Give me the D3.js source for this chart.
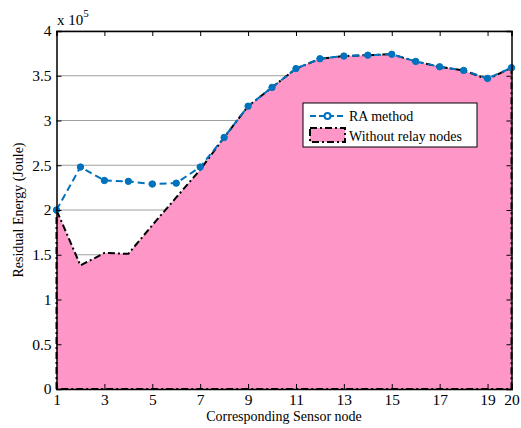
<!DOCTYPE html>
<html>
<head>
<meta charset="utf-8">
<script src="https://cdn.jsdelivr.net/npm/d3@7"></script>
<style>
  body { margin: 0; background: #fff; }
  svg text { font-family: "Liberation Serif", "Times New Roman", serif; fill: #000; }
</style>
</head>
<body>
<svg id="chart" width="521" height="428"></svg>
<script>
// Sensor node indices
const nodes = [1,2,3,4,5,6,7,8,9,10,11,12,13,14,15,16,17,18,19,20];
// Residual energy (x 10^5 J) with the RA method
const raMethod = [2.00,2.48,2.33,2.32,2.29,2.30,2.48,2.81,3.16,3.37,3.58,3.69,3.72,3.73,3.74,3.66,3.60,3.56,3.47,3.59];
// Residual energy (x 10^5 J) without relay nodes
const withoutRelay = [2.00,1.38,1.52,1.51,1.83,2.14,2.45,2.81,3.16,3.37,3.58,3.69,3.72,3.73,3.74,3.66,3.60,3.56,3.46,3.59];
const xTicks = [1,3,5,7,9,11,13,15,17,19,20];
const yTicks = [0,0.5,1,1.5,2,2.5,3,3.5,4];
const seriesNames = ["RA method", "Without relay nodes"];

const svg = d3.select("#chart");
const m = { left: 56.5, right: 511.5, top: 31, bottom: 389 };
const x = d3.scaleLinear().domain([1, 20]).range([m.left, m.right]);
const y = d3.scaleLinear().domain([0, 4]).range([m.bottom, m.top]);

const pink = "#ff96c8";
const blue = "#0072bd";

// horizontal grid
svg.append("g").selectAll("line").data(yTicks).join("line")
  .attr("x1", m.left).attr("x2", m.right)
  .attr("y1", d => y(d)).attr("y2", d => y(d))
  .attr("stroke", "#a0a0a0").attr("stroke-width", 1);

// filled area for "without relay nodes"
const pts = nodes.map((n, i) => [n, withoutRelay[i]]);
const area = d3.area().x(d => x(d[0])).y0(y(0)).y1(d => y(d[1]));
svg.append("path").datum(pts).attr("d", area).attr("fill", pink);

// dash-dot outline of the area
const outline = [[1, 0], ...pts, [20, 0], [1, 0]];
svg.append("path").datum(outline)
  .attr("d", d3.line().x(d => x(d[0])).y(d => y(d[1])))
  .attr("fill", "none").attr("stroke", "#000").attr("stroke-width", 2)
  .attr("stroke-dasharray", "7,3,2,3");

// RA method line
const ra = nodes.map((n, i) => [n, raMethod[i]]);
svg.append("path").datum(ra)
  .attr("d", d3.line().x(d => x(d[0])).y(d => y(d[1])))
  .attr("fill", "none").attr("stroke", blue).attr("stroke-width", 2)
  .attr("stroke-dasharray", "7,4");
svg.append("g").selectAll("circle").data(ra).join("circle")
  .attr("cx", d => x(d[0])).attr("cy", d => y(d[1])).attr("r", 3.2)
  .attr("fill", blue).attr("stroke", blue).attr("stroke-width", 1);

// axes box with inward ticks
const axB = d3.axisBottom(x).tickValues(xTicks).tickSize(-5).tickPadding(5).tickFormat(d3.format("d"));
const axT = d3.axisTop(x).tickValues(xTicks).tickSize(-5).tickFormat("");
const axL = d3.axisLeft(y).tickValues(yTicks).tickSize(-5).tickPadding(5).tickFormat(d => d);
const axR = d3.axisRight(y).tickValues(yTicks).tickSize(-5).tickFormat("");

function style(g) {
  g.selectAll(".domain").attr("stroke", "#000").attr("stroke-width", 1.5);
  g.selectAll(".tick line").attr("stroke", "#000");
  g.selectAll("text").style("font-family", "Liberation Serif, serif").style("font-size", "15.5px").attr("fill", "#000");
}
svg.append("g").attr("transform", `translate(0,${m.bottom})`).call(axB).call(style);
svg.append("g").attr("transform", `translate(0,${m.top})`).call(axT).call(style);
svg.append("g").attr("transform", `translate(${m.left},0)`).call(axL).call(style);
svg.append("g").attr("transform", `translate(${m.right},0)`).call(axR).call(style);

// exponent label
const ex = svg.append("text").attr("x", 57).attr("y", 25).style("font-size", "15px");
ex.append("tspan").text("x 10");
ex.append("tspan").attr("dy", -8).style("font-size", "11px").text("5");

// axis titles
svg.append("text").attr("x", (m.left + m.right) / 2).attr("y", 421)
  .attr("text-anchor", "middle").style("font-size", "14px").text("Corresponding Sensor node");
svg.append("text").attr("transform", `translate(23,${(m.top + m.bottom) / 2}) rotate(-90)`)
  .attr("text-anchor", "middle").style("font-size", "14px").text("Residual Energy (Joule)");

// legend
const lg = svg.append("g").attr("transform", "translate(303,103)");
lg.append("rect").attr("width", 174).attr("height", 44).attr("fill", "#fff").attr("stroke", "#000").attr("stroke-width", 1);
lg.append("line").attr("x1", 7).attr("x2", 42).attr("y1", 13).attr("y2", 13)
  .attr("stroke", blue).attr("stroke-width", 2).attr("stroke-dasharray", "6,3");
lg.append("circle").attr("cx", 24.5).attr("cy", 13).attr("r", 3).attr("fill", "#fff").attr("stroke", blue).attr("stroke-width", 2);
lg.append("text").attr("x", 46).attr("y", 18).style("font-size", "14px").text(seriesNames[0]);
lg.append("rect").attr("x", 7).attr("y", 25).attr("width", 35).attr("height", 14)
  .attr("fill", pink).attr("stroke", "#000").attr("stroke-width", 2).attr("stroke-dasharray", "7,3,2,3");
lg.append("text").attr("x", 46).attr("y", 38).style("font-size", "14px").text(seriesNames[1]);
</script>
</body>
</html>
